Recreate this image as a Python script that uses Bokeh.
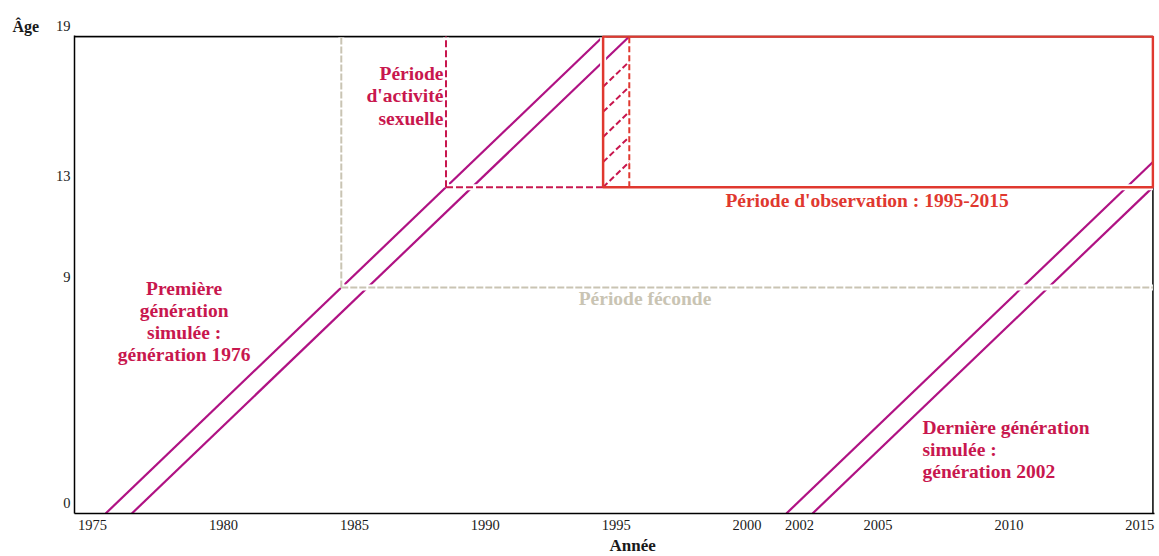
from bokeh.plotting import figure
from bokeh.models import ColumnDataSource, FixedTicker, Label, Range1d, Title
from bokeh.embed import file_html
from bokeh.resources import INLINE

# ---------------- data ----------------
year_ticks = [1975, 1980, 1985, 1990, 1995, 2000, 2002, 2005, 2010, 2015]
age_ticks = [0, 9, 13, 19]
age_tick_labels = ["0", "9", "13", "19"]

# Lexis life-lines (generation boundaries): start year (age 0) -> end point
life_x0 = [1975.5, 1976.5, 2001.5, 2002.5]
life_y0 = [0, 0, 0, 0]
life_x1 = [1994.5, 1995.5, 2015.5, 2015.5]
life_y1 = [19, 19, 14, 13]

# fertile period (from 1985, age 9+)
fec_year = 1984.5
fec_age = 9
# sexual activity period box
sex_year0, sex_year1 = 1988.5, 1994.5
sex_age0, sex_age1 = 13, 19
# observation period 1995-2015
obs_year0, obs_year1 = 1994.5, 2015.5
obs_age0, obs_age1 = 13, 19
first_obs_year_end = 1995.5
# hatched cohort segments inside first observed year
hatch_ages = [13, 14, 15, 16, 17]

x_lo, x_hi = 1974.31, 2015.56
y_lo, y_hi = 0, 19.04
age_top = 19
year_end = 2015.5

# ---------------- colours ----------------
MAG = "#b01283"
CRIM = "#c8174e"
RED = "#e0382f"
GREY = "#c9c4b3"
INK = "#1a1a1a"
FONT = "Liberation Serif"

p = figure(width=1159, height=556, output_backend="svg", toolbar_location=None,
           x_range=Range1d(x_lo, x_hi), y_range=Range1d(y_lo, y_hi),
           min_border_left=74, min_border_right=5, min_border_top=35, min_border_bottom=43)
p.grid.visible = False
p.outline_line_color = None

# x axis
p.xaxis.ticker = FixedTicker(ticks=year_ticks)
p.xaxis.major_tick_line_color = None
p.xaxis.minor_tick_line_color = None
p.xaxis.major_tick_out = 0
p.xaxis.major_tick_in = 0
p.xaxis.major_label_standoff = 6
p.xaxis.major_label_text_font = FONT
p.xaxis.major_label_text_font_size = "14.5px"
p.xaxis.major_label_text_color = INK
p.xaxis.axis_line_width = 1.5
p.xaxis.axis_line_color = "black"

# y axis: labels sit slightly above their tick (blank second line)
p.yaxis.ticker = FixedTicker(ticks=age_ticks)
p.yaxis.major_label_overrides = {t: lab + "\n" for t, lab in zip(age_ticks, age_tick_labels)}
p.yaxis.major_tick_line_color = None
p.yaxis.minor_tick_line_color = None
p.yaxis.major_tick_out = 0
p.yaxis.major_tick_in = 0
p.yaxis.major_label_standoff = 4
p.yaxis.major_label_text_font = FONT
p.yaxis.major_label_text_font_size = "14.5px"
p.yaxis.major_label_text_line_height = 1.35
p.yaxis.major_label_text_color = INK
p.yaxis.axis_line_width = 1.5
p.yaxis.axis_line_color = "black"

# axis titles
p.add_layout(Title(text="Âge", align="left", offset=-62, standoff=1, text_font=FONT,
                   text_font_style="bold", text_font_size="16px", text_color=INK), "above")
p.add_layout(Title(text="Année", align="left", offset=535, standoff=3, text_font=FONT,
                   text_font_style="bold", text_font_size="17px", text_color=INK), "below")

# frame top / right border
p.segment(x0=[x_lo, year_end], y0=[age_top, y_lo], x1=[year_end, year_end], y1=[age_top, age_top],
          line_color="black", line_width=1.5)

# life lines
life_src = ColumnDataSource(dict(x0=life_x0, y0=life_y0, x1=life_x1, y1=life_y1))
p.segment("x0", "y0", "x1", "y1", source=life_src, line_color=MAG, line_width=2.2)

# white casings (produce gaps where lines cross)
p.segment(x0=[fec_year, fec_year], y0=[fec_age, fec_age], x1=[fec_year, year_end], y1=[age_top, fec_age],
          line_color="white", line_width=6)
p.segment(x0=[sex_year0, sex_year0, obs_year0, obs_year0],
          y0=[sex_age0, sex_age0, obs_age0, obs_age0],
          x1=[sex_year0, sex_year1, obs_year0, obs_year1],
          y1=[sex_age1, sex_age0, obs_age1, obs_age0],
          line_color="white", line_width=6)
p.segment(x0=[x_lo], y0=[age_top], x1=[year_end], y1=[age_top], line_color="black", line_width=1.5)

# fertile period (grey dashed)
p.segment(x0=[fec_year, fec_year], y0=[fec_age, fec_age], x1=[fec_year, year_end], y1=[age_top, fec_age],
          line_color=GREY, line_width=2, line_dash="7 2")

# sexual activity box (crimson dashed)
p.segment(x0=[sex_year0, sex_year0], y0=[sex_age0, sex_age0], x1=[sex_year0, sex_year1], y1=[sex_age1, sex_age0],
          line_color=CRIM, line_width=2, line_dash="7 3")

# hatched cohort segments
hatch_src = ColumnDataSource(dict(
    x0=[obs_year0] * len(hatch_ages), y0=hatch_ages,
    x1=[first_obs_year_end] * len(hatch_ages), y1=[a + 1 for a in hatch_ages]))
p.segment("x0", "y0", "x1", "y1", source=hatch_src, line_color=CRIM, line_width=2, line_dash="6 3")

# first observed year right edge (red dashed)
p.segment(x0=[first_obs_year_end], y0=[obs_age0], x1=[first_obs_year_end], y1=[obs_age1],
          line_color=RED, line_width=2, line_dash="6 3")

# observation box
p.quad(left=[obs_year0], right=[obs_year1], bottom=[obs_age0], top=[obs_age1],
       fill_color=None, line_color=RED, line_width=2.5)

# annotations
def note(x, y, txt, color, align="center"):
    p.add_layout(Label(x=x, y=y, text=txt, text_align=align, text_baseline="middle",
                       text_font=FONT, text_font_style="bold", text_font_size="19.5px",
                       text_color=color, text_line_height=1.06))

note(1978.5, 7.65, "Première\ngénération\nsimulée :\ngénération 1976", CRIM)
note(1988.4, 16.63, "Période\nd'activité\nsexuelle", CRIM, "right")
note(2004.58, 12.47, "Période d'observation : 1995-2015", RED)
note(1996.1, 8.57, "Période féconde", GREY)
note(2006.7, 2.55, "Dernière génération\nsimulée :\ngénération 2002", CRIM, "left")

open("out.html", "w").write(file_html(p, INLINE))
